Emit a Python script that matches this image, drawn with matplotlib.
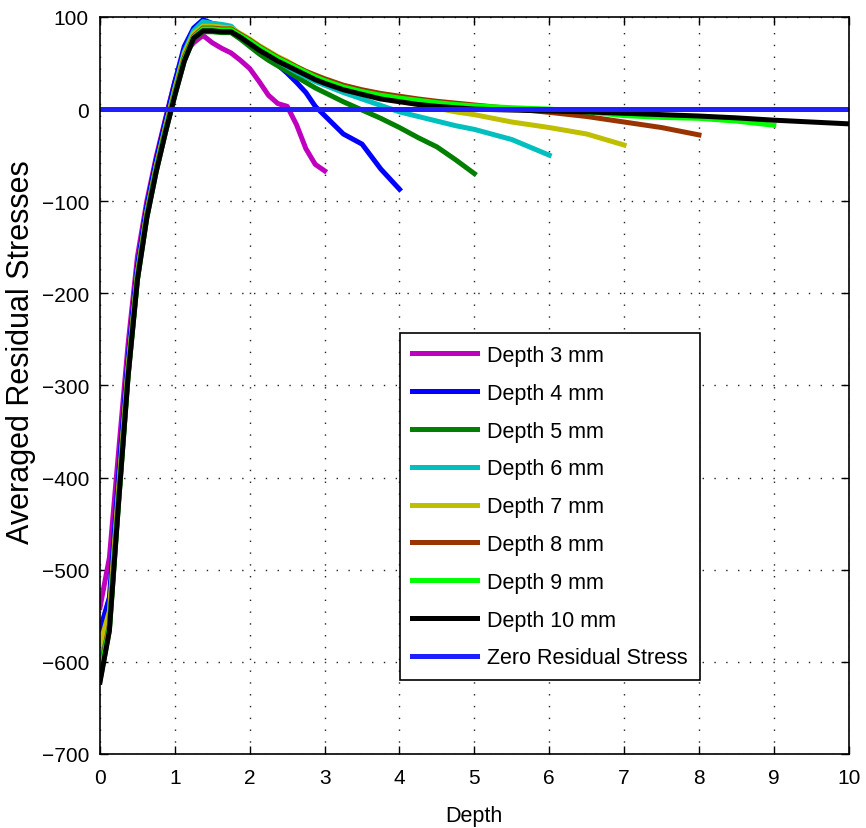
import matplotlib
matplotlib.use("Agg")
import matplotlib.pyplot as plt

plt.rcParams['font.family'] = ['Liberation Sans', 'DejaVu Sans']

depth = [0, 0.125, 0.25, 0.375, 0.5, 0.625, 0.75, 0.875, 1.0, 1.125, 1.25, 1.375,
         1.5, 1.625, 1.75, 1.875, 2.0, 2.125, 2.25, 2.375, 2.5, 2.625, 2.75, 2.875,
         3.0, 3.25, 3.5, 3.75, 4.0, 4.25, 4.5, 4.75, 5.0,
         5.5, 6.0, 6.5, 7.0, 7.5, 8.0, 8.5, 9.0, 9.5, 10.0]

s3 = [-541, -487, -370, -255, -160, -100, -52, -10, 30, 60, 72, 80,
      72, 66, 61, 53, 44, 30, 15, 6, 3, -17, -43, -60, -67]
s4 = [-565, -530, -395, -270, -170, -105, -55, -12, 30, 68, 88, 97,
      93, 91, 89, 78, 69, 62, 55, 48, 39, 29, 18, 3,
      -7, -27, -38, -65, -87]
s5 = [-620, -566, -425, -290, -185, -118, -68, -25, 15, 52, 76, 84,
      84, 83, 83, 76, 68, 60, 53, 47, 41, 35, 29, 23,
      18, 8, -1, -10, -20, -31, -41, -55, -70]
s6 = [-603, -555, -415, -282, -178, -112, -62, -19, 22, 62, 85, 95,
      93, 92, 90, 80, 72, 65, 58, 52, 46, 40, 35, 30,
      26, 18, 11, 4, -3, -8, -13, -18, -22,
      -33, -50]
s7 = [-581, -545, -410, -280, -178, -112, -62, -19, 22, 60, 82, 90,
      90, 89, 88, 82, 76, 69, 63, 57, 52, 46, 41, 36,
      32, 24, 18, 13, 9, 5, 1, -3, -6,
      -14, -20, -27, -39]
s8 = [-610, -560, -420, -287, -182, -115, -65, -22, 18, 56, 79, 88,
      88, 87, 87, 81, 75, 68, 62, 56, 51, 46, 41, 37,
      33, 26, 21, 17, 14, 11, 8.5, 6.5, 4.5,
      0.5, -3.5, -8, -14, -20, -28]
s9 = [-615, -563, -422, -288, -183, -116, -66, -23, 17, 54, 78, 87,
      87, 86, 86, 80, 74, 67, 61, 55, 50, 45, 40, 35,
      31, 24, 19, 15, 12, 9.5, 7, 5, 3.5,
      1.5, 0, -3, -7, -9, -10, -13, -17.5]
s10 = [-622, -566, -425, -290, -185, -118, -68, -25, 15, 52, 77, 85,
       85, 84, 84, 78, 71, 64, 58, 52, 47, 42, 37, 32,
       28, 21, 16, 11, 8, 5, 3, 1.5, 0,
       -1, -2, -3, -4.5, -6, -7.5, -9.5, -12, -14, -16]

series = [s3, s4, s5, s6, s7, s8, s9, s10]
labels = ['Depth 3 mm', 'Depth 4 mm', 'Depth 5 mm', 'Depth 6 mm', 'Depth 7 mm',
          'Depth 8 mm', 'Depth 9 mm', 'Depth 10 mm']
colors = ['#BF00BF', '#0000FF', '#007F00', '#00BFBF', '#BFBF00', '#993300',
          '#00FF00', '#000000']

zero_x = [0, 10]
zero_y = [0, 0]

fig = plt.figure(figsize=(8.66, 8.29), dpi=100)
ax = fig.add_axes([0.1155, 0.0893, 0.8645, 0.889])

for ys, lab, c in zip(series, labels, colors):
    ax.plot(depth[:len(ys)], ys, color=c, lw=3.6, label=lab, solid_joinstyle='round')
ax.plot(zero_x, zero_y, color='#1E1EFF', lw=3.6, label='Zero Residual Stress')

ax.set_xlim(0, 10)
ax.set_ylim(-700, 100)
ax.set_xticks(range(0, 11))
ax.set_yticks(range(-700, 101, 100))
ax.set_yticklabels(['\u2212700', '\u2212600', '\u2212500', '\u2212400', '\u2212300',
                    '\u2212200', '\u2212100', '0', '100'])
ax.grid(True, linestyle=(0, (1, 7.5)), color='#222222', linewidth=1.0)
ax.tick_params(direction='in', top=True, right=True, length=6, width=1, labelsize=15)
ax.tick_params(axis='x', pad=10)
ax.tick_params(axis='y', pad=8)
for sp in ax.spines.values():
    sp.set_linewidth(1.2)

ax.set_xlabel('Depth', fontsize=15.5, labelpad=13)
ax.set_ylabel('Averaged Residual Stresses', fontsize=22)
ax.yaxis.set_label_coords(-0.086, 0.547)

leg = ax.legend(loc='upper left', bbox_to_anchor=(0.4005, 0.571),
                prop={'size': 15.5},
                frameon=True, fancybox=False, edgecolor='black', framealpha=1,
                handlelength=3.05, handletextpad=0.45, labelspacing=0.78,
                borderpad=0.55, borderaxespad=0)
leg.get_frame().set_linewidth(1.2)

fig.savefig('out.png', dpi=100)
